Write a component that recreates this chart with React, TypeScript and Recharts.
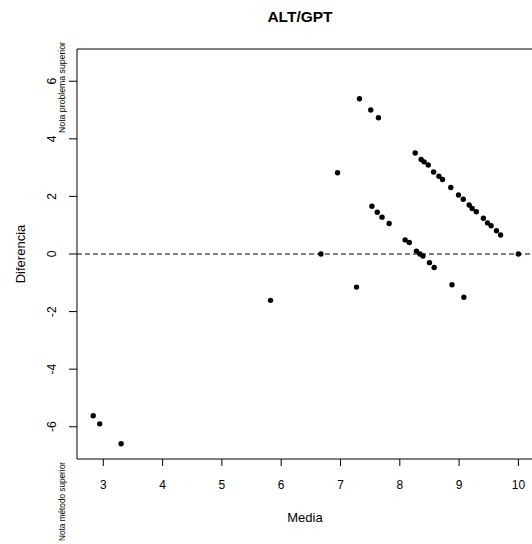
import React from 'react';
import { ScatterChart, Scatter, XAxis, YAxis, ReferenceLine, ReferenceArea } from 'recharts';

const mediaValues = [
  2.83, 2.94, 3.30, 5.82, 6.67, 6.95, 7.27, 7.32, 7.51, 7.64,
  7.53, 7.62, 7.70, 7.82, 8.09, 8.16, 8.28, 8.34, 8.39, 8.50,
  8.58, 8.26, 8.36, 8.41, 8.48, 8.57, 8.66, 8.72, 8.86, 8.99,
  9.07, 9.17, 9.22, 9.29, 9.41, 9.48, 9.54, 9.63, 9.70, 8.88,
  9.08, 10.0,
];
const diferenciaValues = [
  -5.62, -5.90, -6.59, -1.61, 0.0, 2.82, -1.15, 5.39, 5.00, 4.73,
  1.66, 1.45, 1.28, 1.06, 0.49, 0.40, 0.10, 0.00, -0.07, -0.30,
  -0.47, 3.51, 3.28, 3.20, 3.09, 2.85, 2.70, 2.59, 2.31, 2.05,
  1.90, 1.70, 1.58, 1.47, 1.24, 1.08, 0.98, 0.81, 0.66, -1.07,
  -1.50, 0.0,
];
const xTicks = [3, 4, 5, 6, 7, 8, 9, 10];
const yTicks = [-6, -4, -2, 0, 2, 4, 6];
const xDomain: [number, number] = [2.5565, 10.29];
const yDomain: [number, number] = [-7.12, 7.12];

const points = mediaValues.map((m, i) => ({ media: m, diferencia: diferenciaValues[i] }));

const FONT = '"Liberation Sans", Arial, sans-serif';

const XTick = (props: any) => {
  const { x, payload } = props;
  return (
    <text x={x} y={485} textAnchor="middle" dominantBaseline="central" fontFamily={FONT} fontSize={12} fill="#000">
      {payload.value}
    </text>
  );
};

const YTick = (props: any) => {
  const { y, payload } = props;
  const tx = 52;
  return (
    <text x={tx} y={y} transform={`rotate(-90, ${tx}, ${y})`} textAnchor="middle" dominantBaseline="central" fontFamily={FONT} fontSize={12} fill="#000">
      {payload.value}
    </text>
  );
};

const Dot = (props: any) => {
  const { cx, cy } = props;
  if (cx == null || cy == null) return null;
  return <circle cx={cx} cy={cy} r={2.7} fill="#000" />;
};

export default function App() {
  return (
    <div style={{ position: 'absolute', left: 0, top: 0, width: 532, height: 544, overflow: 'hidden', background: '#fff' }}>
      <div style={{ position: 'relative', width: 545, height: 544 }}>
        <ScatterChart width={545} height={544} margin={{ top: 49, right: 9.4, bottom: 45, left: 0 }}>
          <XAxis
            type="number"
            dataKey="media"
            domain={xDomain}
            ticks={xTicks}
            allowDataOverflow
            axisLine={false}
            tickLine={{ stroke: '#000' }}
            tickSize={7}
            height={40}
            tick={XTick}
            interval={0}
          />
          <YAxis
            type="number"
            dataKey="diferencia"
            domain={yDomain}
            ticks={yTicks}
            allowDataOverflow
            axisLine={false}
            tickLine={{ stroke: '#000' }}
            tickSize={8}
            width={77}
            tick={YTick}
            interval={0}
          />
          <ReferenceArea x1={xDomain[0]} x2={xDomain[1]} y1={yDomain[0]} y2={yDomain[1]} fill="none" stroke="#000" strokeWidth={1} ifOverflow="visible" />
          <ReferenceLine y={0} stroke="#000" strokeDasharray="5 3" />
          <Scatter data={points} shape={Dot} isAnimationActive={false} />
        </ScatterChart>
        <svg width={532} height={544} style={{ position: 'absolute', left: 0, top: 0, pointerEvents: 'none' }}>
          <text x={300} y={16} textAnchor="middle" dominantBaseline="central" fontFamily={FONT} fontSize={15.5} fontWeight="bold" fill="#000">
            ALT/GPT
          </text>
          <text x={305} y={517} textAnchor="middle" dominantBaseline="central" fontFamily={FONT} fontSize={13} fill="#000">
            Media
          </text>
          <text x={20} y={254} transform="rotate(-90, 20, 254)" textAnchor="middle" dominantBaseline="central" fontFamily={FONT} fontSize={13} fill="#000">
            Diferencia
          </text>
          <text x={62} y={133} transform="rotate(-90, 62, 133)" textAnchor="start" dominantBaseline="central" fontFamily={FONT} fontSize={8.5} textLength={91} lengthAdjust="spacingAndGlyphs" fill="#000">
            Nota problema superior
          </text>
          <text x={62} y={462} transform="rotate(-90, 62, 462)" textAnchor="end" dominantBaseline="central" fontFamily={FONT} fontSize={8.5} textLength={79} lengthAdjust="spacingAndGlyphs" fill="#000">
            Nota método superior
          </text>
        </svg>
      </div>
    </div>
  );
}
